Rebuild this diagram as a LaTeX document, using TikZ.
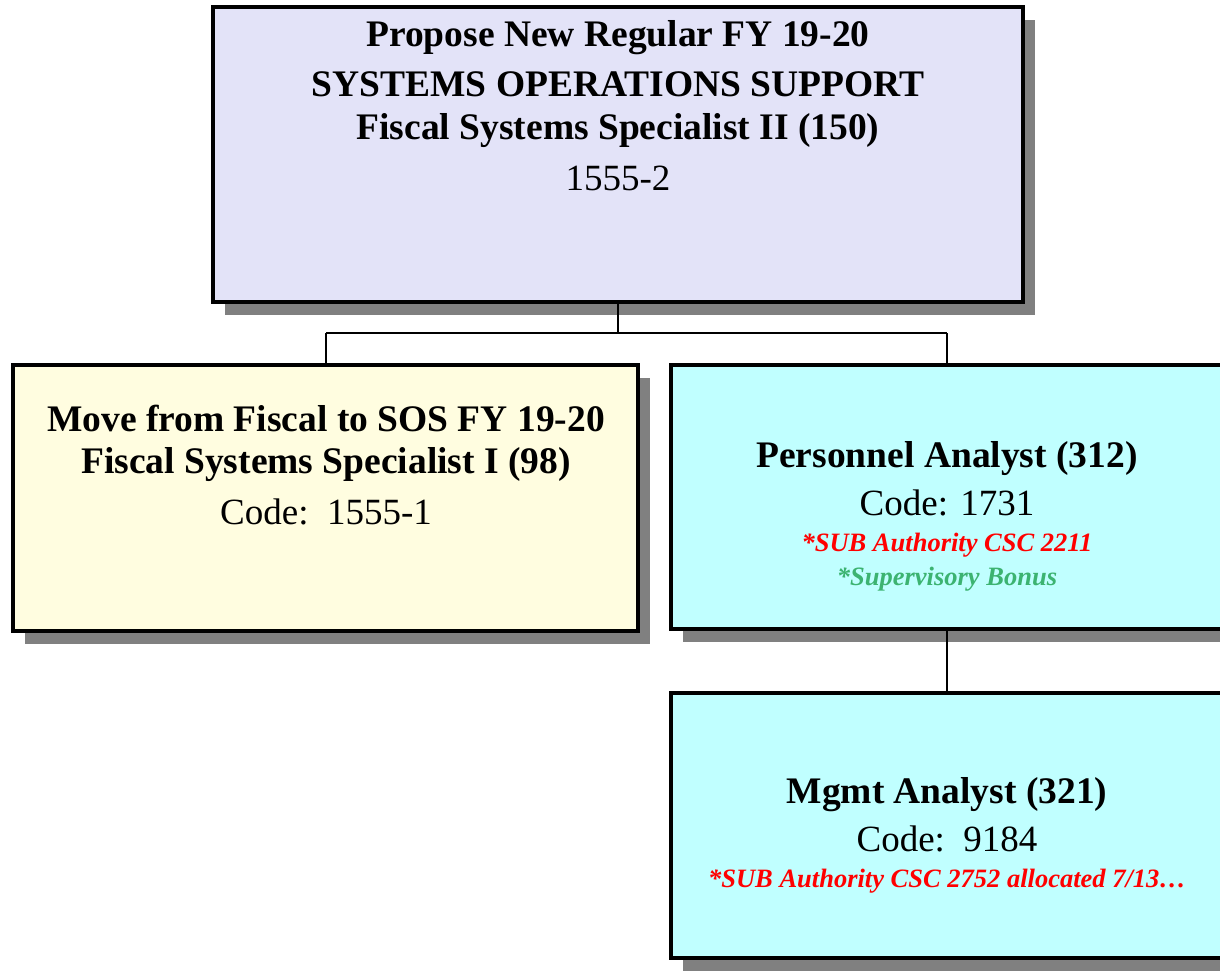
\documentclass[tikz,border=0pt]{standalone}
\usepackage{fontspec}
\setmainfont{Liberation Serif}
\usetikzlibrary{shadows}
\definecolor{topfill}{HTML}{E3E3F8}
\definecolor{movefill}{HTML}{FFFDE0}
\definecolor{cyanfill}{HTML}{C0FFFF}
\definecolor{subred}{HTML}{FF0000}
\definecolor{bonusgreen}{HTML}{3CB371}
\definecolor{shadowgray}{HTML}{808080}
\tikzset{
  orgbox/.style={draw=black, line width=4pt, rectangle, inner sep=0pt,
    drop shadow={shadow xshift=12pt, shadow yshift=-13pt, fill=shadowgray, opacity=1}},
  bigtxt/.style={font=\fontsize{37.5}{44}\selectfont\bfseries, inner sep=0pt, anchor=center},
  codetxt/.style={font=\fontsize{37}{44}\selectfont, inner sep=0pt, anchor=center},
  notetxt/.style={font=\fontsize{26.5}{30}\selectfont\bfseries\itshape, inner sep=0pt, anchor=center},
  link/.style={draw=black, line width=2pt}
}
\begin{document}
\begin{tikzpicture}[x=1pt, y=-1pt]
\useasboundingbox (0,0) rectangle (1220,970);

% boxes
\node[orgbox, fill=topfill, minimum width=810pt, minimum height=295pt] (top) at (618,154.5) {};
\node[orgbox, fill=movefill, minimum width=625pt, minimum height=266pt] (move) at (325.5,498) {};
\node[orgbox, fill=cyanfill, minimum width=560pt, minimum height=264pt] (pa) at (951,497) {};
\node[orgbox, fill=cyanfill, minimum width=560pt, minimum height=265pt] (ma) at (951,825.5) {};

% connectors
\coordinate (bus) at (618,333);
\draw[link] (top.south) -- (bus);
\draw[link] (326,333) -- (947,333);
\draw[link] (326,333) -- (move.north -| 326,0);
\draw[link] (947,333) -- (pa.north -| 947,0);
\draw[link] (pa.south -| 947,0) -- (ma.north -| 947,0);

% top box text
\node[bigtxt] (t1) at (618,38) {Propose New Regular FY 19-20};
\node[bigtxt] (t2) at (618,84) {SYSTEMS OPERATIONS SUPPORT};
\node[bigtxt] (t3) at (618,131) {Fiscal Systems Specialist II (150)};
\node[codetxt] (t4) at (618,178) {1555-2};

% moved position text
\node[bigtxt] (m1) at (326,418) {Move from Fiscal to SOS FY 19-20};
\node[bigtxt] (m2) at (326,465) {Fiscal Systems Specialist I (98)};
\node[codetxt] (m3) at (326,512) {Code:\ \ 1555-1};

% personnel analyst text
\node[bigtxt] (p1) at (947,459) {Personnel Analyst (312)};
\node[codetxt] (p2) at (947,503) {Code: 1731};
\node[notetxt, text=subred] (p3) at (947,545) {*SUB Authority CSC 2211};
\node[notetxt, text=bonusgreen] (p4) at (947,579) {*Supervisory Bonus};

% mgmt analyst text
\node[bigtxt] (a1) at (947,795) {Mgmt Analyst (321)};
\node[codetxt] (a2) at (947,839) {Code:\ \ 9184};
\node[notetxt, text=subred] (a3) at (947,881) {*SUB Authority CSC 2752 allocated 7/13\ldots};
\end{tikzpicture}
\end{document}
